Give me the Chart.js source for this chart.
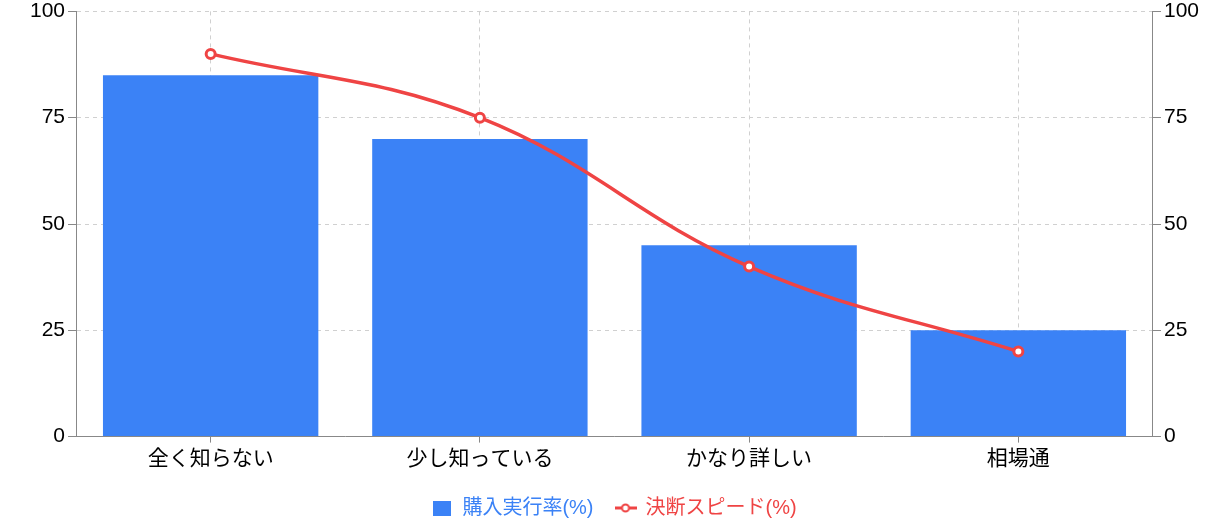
<!DOCTYPE html>
<html lang="ja">
<head>
  <meta charset="UTF-8" />
  <script src="https://cdn.jsdelivr.net/npm/chart.js"></script>
  <title>購入実行率と決断スピード</title>
  <style>
    body { margin: 0; background: #fff; }
    #wrap { width: 1210px; height: 528px; }
  </style>
</head>
<body>
  <div id="wrap"><canvas id="grafico"></canvas></div>
  <script>
    // datos
    const categorias = ['全く知らない', '少し知っている', 'かなり詳しい', '相場通'];
    const tasaCompra = [85, 70, 45, 25];
    const velocidad = [90, 75, 40, 20];
    const ticksY = [0, 25, 50, 75, 100];

    const azul = '#3b82f6';
    const rojo = '#ef4444';
    const fuente = "'Liberation Sans', 'Noto Sans CJK JP', sans-serif";

    // iconos de la leyenda
    function iconoBarra() {
      const c = document.createElement('canvas');
      c.width = 18; c.height = 15;
      const g = c.getContext('2d');
      g.fillStyle = azul;
      g.fillRect(0, 0, 18, 15);
      return c;
    }
    function iconoLinea() {
      const c = document.createElement('canvas');
      c.width = 22; c.height = 12;
      const g = c.getContext('2d');
      g.strokeStyle = rojo;
      g.lineWidth = 3;
      g.beginPath(); g.moveTo(0, 6); g.lineTo(22, 6); g.stroke();
      g.fillStyle = '#fff';
      g.lineWidth = 2;
      g.beginPath(); g.arc(11, 6, 3.5, 0, Math.PI * 2); g.fill(); g.stroke();
      return c;
    }

    const ejeY = (pos) => ({
      type: 'linear',
      position: pos,
      min: 0,
      max: 100,
      afterBuildTicks: axis => { axis.ticks = ticksY.map(v => ({ value: v })); },
      border: { display: true, color: '#888', width: 1, dash: [4, 4] },
      grid: {
        drawOnChartArea: pos === 'left',
        color: '#d0d0d0',
        tickColor: '#888',
        tickLength: 8
      },
      ticks: { color: '#000', font: { family: fuente, size: 21, lineHeight: 0.8 }, padding: 3 }
    });

    const ctx = document.getElementById('grafico').getContext('2d');
    new Chart(ctx, {
      data: {
        labels: categorias,
        datasets: [
          {
            type: 'line',
            label: '決断スピード(%)',
            data: velocidad,
            yAxisID: 'y1',
            borderColor: rojo,
            borderWidth: 3.5,
            tension: 0.4,
            pointRadius: 4.5,
            pointBorderWidth: 3,
            pointBackgroundColor: '#fff',
            pointBorderColor: rojo,
            order: 0
          },
          {
            type: 'bar',
            label: '購入実行率(%)',
            data: tasaCompra,
            yAxisID: 'y',
            backgroundColor: azul,
            barPercentage: 0.8,
            categoryPercentage: 1.0,
            order: 1
          }
        ]
      },
      options: {
        responsive: true,
        maintainAspectRatio: false,
        animation: false,
        layout: { padding: { top: 0, right: 8, left: 27, bottom: 0 } },
        plugins: {
          legend: {
            position: 'bottom',
            labels: {
              usePointStyle: true,
              font: { family: fuente, size: 20 },
              padding: 22,
              generateLabels: chart => [
                { text: '購入実行率(%)', pointStyle: iconoBarra(), fontColor: azul, datasetIndex: 1, hidden: !chart.isDatasetVisible(1), lineWidth: 0 },
                { text: '決断スピード(%)', pointStyle: iconoLinea(), fontColor: rojo, datasetIndex: 0, hidden: !chart.isDatasetVisible(0), lineWidth: 0 }
              ]
            }
          },
          tooltip: { enabled: true }
        },
        scales: {
          x: {
            offset: true,
            border: { display: true, color: '#888', width: 1, dash: [4, 4] },
            grid: {
              offset: false,
              color: '#d0d0d0',
              tickColor: '#888',
              tickLength: 6
            },
            ticks: { color: '#000', font: { family: fuente, size: 21, lineHeight: 1.4 }, padding: 2 }
          },
          y: ejeY('left'),
          y1: ejeY('right')
        }
      }
    });
  </script>
</body>
</html>
